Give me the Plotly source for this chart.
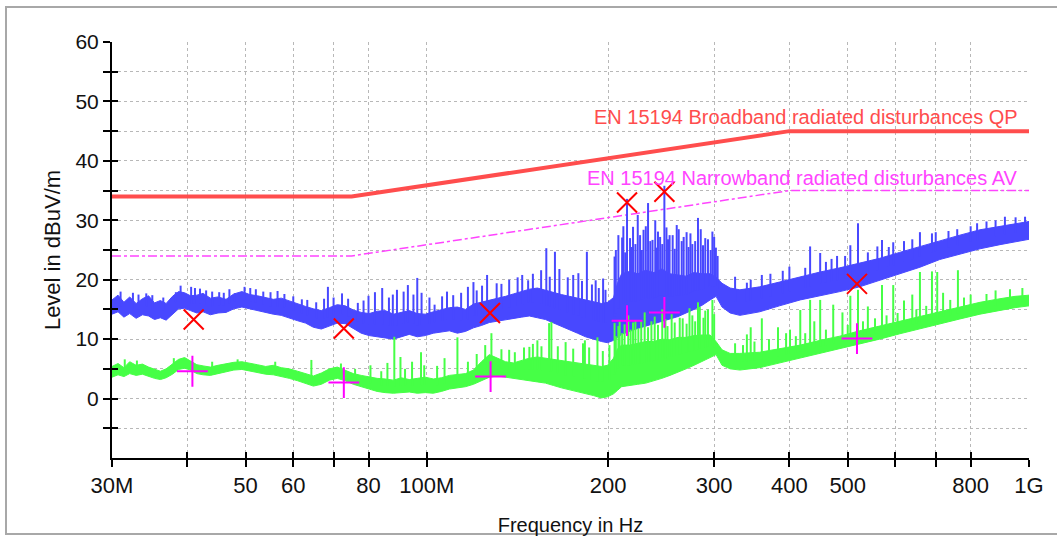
import numpy as np
import plotly.graph_objects as go

# ---------------- data ----------------
# frequency grid in MHz at which the two measured traces were read
freq_mhz = [30.0, 30.7, 31.4, 32.1, 32.9, 33.7, 34.5, 35.3, 36.1, 36.9,
            37.8, 38.7, 39.6, 40.5, 41.5, 42.5, 43.7, 45.0, 46.4, 47.8,
            49.3, 50.8, 52.3, 54.0, 55.6, 57.3, 59.1, 61.0, 62.9, 64.8,
            66.8, 68.9, 71.0, 73.2, 75.5, 77.8, 80.2, 82.7, 85.3, 88.0,
            90.7, 93.5, 96.4, 99.4, 102.5, 105.7, 109.0, 112.4, 115.9, 119.5,
            123.2, 127.0, 131.0, 135.1, 139.2, 143.6, 148.0, 152.6, 157.4, 162.3,
            167.3, 172.5, 177.9, 183.4, 189.2, 195.0, 199.6, 204.2, 207.4, 210.6,
            217.2, 224.0, 231.0, 238.2, 245.6, 253.4, 261.3, 269.4, 277.8, 286.5,
            295.4, 302.2, 309.2, 318.9, 331, 357, 385, 417, 450, 485,
            523, 565, 610, 659, 711, 768, 829, 895, 948, 1000]

# peak trace (blue): upper and lower edge of the noise band, dBuV/m
peak_hi = [16.6, 17.4, 16.2, 17.1, 16.0, 16.8, 17.3, 16.1, 16.5, 16.0,
           17.2, 18.0, 17.8, 17.3, 17.4, 17.7, 16.9, 17.1, 16.7, 17.6,
           18.0, 17.5, 17.3, 17.0, 16.7, 16.9, 16.4, 16.0, 15.5, 15.1,
           14.8, 15.3, 15.8, 15.6, 14.9, 14.5, 14.3, 14.7, 14.8, 14.2,
           14.5, 14.8, 14.3, 14.2, 14.6, 14.9, 15.3, 15.4, 15.0, 15.9,
           16.2, 16.6, 16.9, 17.2, 17.6, 18.0, 18.4, 18.6, 18.2, 17.8,
           17.5, 17.2, 16.9, 16.6, 16.3, 16.0, 16.2, 17.0, 19.5, 21.0,
           21.4, 21.0, 21.6, 21.2, 21.8, 21.0, 20.8, 20.6, 21.2, 21.0,
           21.0, 20.4, 19.4, 18.6, 18.3, 18.8, 19.6, 20.5, 21.3, 22.0,
           22.8, 23.6, 24.6, 25.6, 26.6, 27.5, 28.4, 29.0, 29.5, 29.8]
peak_lo = [14.2, 14.6, 13.7, 14.3, 13.5, 14.1, 13.9, 13.3, 13.6, 13.2,
           14.2, 15.1, 15.2, 14.8, 14.4, 14.6, 14.1, 14.4, 14.5, 15.1,
           15.4, 15.1, 14.8, 14.5, 14.2, 14.0, 13.6, 13.1, 12.7, 12.0,
           11.7, 12.2, 12.7, 12.6, 11.8, 11.0, 10.6, 10.4, 10.2, 10.0,
           10.4, 10.8, 10.4, 10.6, 11.0, 11.2, 11.4, 11.0, 11.3, 11.9,
           12.3, 12.8, 13.0, 13.2, 13.5, 13.7, 13.9, 13.6, 13.3, 12.8,
           12.2, 11.6, 11.0, 10.4, 10.0, 9.6, 9.4, 9.8, 10.3, 10.8,
           11.3, 11.8, 12.2, 12.6, 13.0, 13.4, 13.8, 14.4, 15.0, 15.7,
           16.6, 17.2, 15.4, 14.4, 14.0, 14.6, 15.6, 16.6, 17.3, 18.0,
           18.8, 19.8, 21.0, 22.1, 23.4, 24.3, 25.2, 25.9, 26.4, 26.8]

# average trace (green): upper and lower edge of the band, dBuV/m
avg_hi = [5.4, 5.9, 5.2, 6.2, 5.6, 5.8, 5.3, 5.0, 4.6, 5.0,
          5.8, 6.6, 6.9, 6.3, 5.7, 5.5, 5.3, 5.6, 5.9, 6.1,
          6.2, 6.0, 5.7, 5.4, 5.6, 5.2, 5.0, 4.6, 4.2, 3.8,
          4.3, 5.0, 5.3, 4.8, 4.2, 3.9, 3.6, 3.4, 3.3, 3.1,
          3.5, 3.2, 3.4, 3.6, 3.3, 3.5, 3.9, 4.0, 4.2, 4.8,
          6.2, 7.4, 6.8, 6.2, 6.0, 6.4, 6.8, 7.0, 6.8, 6.6,
          6.4, 6.2, 6.0, 5.8, 5.6, 5.4, 5.6, 6.8, 8.4, 9.0,
          9.0, 9.3, 9.6, 9.6, 10.0, 9.9, 10.3, 10.3, 10.6, 10.7,
          10.7, 9.6, 8.2, 7.6, 7.6, 7.8, 8.4, 9.0, 9.8, 10.5,
          11.4, 12.2, 13.0, 13.8, 14.6, 15.4, 16.2, 16.8, 17.2, 17.4]
avg_lo = [3.6, 4.0, 3.7, 4.2, 3.9, 4.1, 3.8, 3.4, 3.2, 3.5,
          4.1, 4.9, 5.1, 4.8, 4.2, 4.0, 3.9, 4.2, 4.5, 4.8,
          4.9, 4.7, 4.4, 4.1, 4.0, 3.7, 3.4, 3.0, 2.6, 2.1,
          2.4, 3.1, 3.4, 3.0, 2.4, 2.0, 1.6, 1.2, 1.0, 0.9,
          1.0, 1.1, 0.9, 1.0, 0.9, 1.2, 1.6, 1.8, 2.0, 2.4,
          3.0, 3.6, 3.8, 3.6, 3.4, 3.2, 3.0, 2.8, 2.6, 2.2,
          1.8, 1.4, 1.1, 0.8, 0.5, 0.1, 0.3, 0.8, 1.4, 2.0,
          2.2, 2.4, 2.6, 3.0, 3.4, 3.9, 4.4, 5.0, 5.6, 6.2,
          6.9, 7.4, 5.6, 5.0, 4.8, 5.2, 6.0, 6.8, 7.6, 8.4,
          9.2, 10.0, 10.9, 11.8, 12.6, 13.4, 14.2, 14.8, 15.3, 15.6]

# narrow spikes rising out of the peak band (MHz, peak dBuV/m)
peak_spike_mhz = [31.0, 32.5, 33.2, 34.2, 35.0, 36.5, 38.3, 39.0, 40.6, 41.2,
                  42.0, 43.0, 44.0, 45.2, 46.0, 47.0, 48.0, 49.8, 50.9, 52.0,
                  53.5, 55.0, 56.5, 58.0, 60.0, 62.0, 63.3, 65.5, 67.5, 68.5,
                  70.0, 72.3, 74.0, 76.8, 78.5, 80.0, 82.0, 84.3, 86.5, 87.8,
                  89.2, 91.5, 93.0, 95.0, 96.4, 98.0, 101, 103, 106, 108,
                  110.6, 114, 117, 119.5, 121, 123.5, 125.9, 130.6, 133, 137,
                  141.5, 144, 147.3, 150, 154.8, 157.9, 160, 163.2, 166, 171.4,
                  175, 178.5, 181, 184.4, 188, 190.7, 193, 196.2, 198, 205,
                  206, 208, 211, 212, 213.5, 215, 217.5, 219, 220, 222,
                  224, 226, 227.5, 229, 231, 233, 235, 237, 239.5, 241,
                  242, 244, 246, 248, 250, 251.5, 253, 256, 258, 260,
                  262, 265, 267, 270, 272, 274, 276, 279, 282, 285,
                  287.5, 290, 293, 296, 298, 300, 302, 304, 325, 340,
                  345, 360, 372, 390, 400, 425, 433, 450, 460, 470,
                  480, 495, 505, 520, 540, 560, 570, 585, 595, 620,
                  640, 659, 690, 700, 735, 760, 800, 820, 850, 880,
                  912, 950, 985]
peak_spike_db = [18.0, 17.8, 17.5, 17.7, 17.4, 17.0, 17.9, 19.0, 18.8, 18.6,
                 18.5, 18.2, 18.0, 17.9, 17.8, 18.4, 17.7, 18.8, 18.6, 18.4,
                 18.0, 17.9, 18.1, 17.6, 17.2, 16.7, 16.6, 16.2, 16.8, 18.8,
                 17.0, 17.7, 16.8, 16.1, 16.5, 17.3, 17.9, 18.6, 17.0, 17.5,
                 18.3, 18.0, 19.1, 17.5, 20.3, 17.8, 17.0, 15.8, 17.2, 18.0,
                 17.4, 17.8, 18.8, 19.6, 18.2, 19.0, 20.8, 19.4, 19.3, 20.0,
                 20.4, 20.8, 19.9, 21.0, 21.6, 25.3, 20.5, 24.7, 21.8, 20.4,
                 20.8, 21.1, 19.8, 24.7, 19.2, 19.9, 18.6, 20.2, 18.3, 23.9,
                 25.0, 27.5, 27.1, 29.0, 24.6, 33.6, 27.0, 25.5, 28.9, 26.0,
                 30.9, 27.5, 25.0, 28.4, 29.0, 32.9, 26.5, 26.7, 30.0, 25.4,
                 28.1, 27.2, 26.0, 35.8, 28.8, 26.8, 27.5, 27.5, 25.2, 29.2,
                 28.5, 26.5, 27.2, 28.0, 25.5, 27.8, 26.0, 26.5, 30.4, 28.5,
                 25.8, 27.0, 26.8, 25.0, 28.1, 27.2, 25.4, 24.0, 20.5, 19.5,
                 20.0, 20.8, 21.0, 21.5, 22.2, 22.0, 25.6, 24.5, 23.0, 23.5,
                 24.0, 24.0, 25.8, 29.5, 24.6, 25.6, 26.7, 25.5, 26.3, 26.5,
                 26.8, 28.0, 27.8, 28.0, 28.2, 28.5, 29.0, 29.5, 29.8, 30.0,
                 30.6, 30.5, 30.6]

# narrow spikes rising out of the average band (MHz, peak dBuV/m)
avg_spike_mhz = [31.5, 33.0, 38.0, 44.0, 48.5, 56.0, 64.3, 72.0, 76.0, 80.6,
                 84.0, 86.0, 88.3, 90.4, 92.0, 94.5, 97.8, 99.0, 104, 107,
                 112.4, 117, 121, 125, 128, 133, 137, 140, 145, 148,
                 150, 152.6, 155, 159.6, 161, 165, 170, 175, 181.7, 183,
                 186, 192, 196, 201, 205, 206, 208, 209, 211, 213,
                 216, 218, 220, 222, 224.5, 227, 230, 233, 236, 239,
                 242, 246, 249, 251, 255, 258, 263, 266, 270, 273,
                 276, 279, 282, 284, 288, 290, 293, 298, 300, 325,
                 335, 340, 345, 350, 360, 370, 383, 395, 401, 410,
                 417, 425, 433, 440, 450, 460, 473, 490, 500, 505,
                 520, 530, 540, 555, 570, 580, 595, 605, 620, 640,
                 650, 659, 675, 690, 704, 720, 740, 762, 780, 800,
                 850, 880, 930, 975]
avg_spike_db = [6.6, 6.4, 6.8, 6.2, 6.6, 6.2, 6.5, 5.9, 5.0, 5.6,
                4.6, 6.0, 10.4, 7.0, 5.0, 6.2, 7.8, 5.6, 5.5, 6.8,
                10.3, 6.2, 7.5, 9.0, 11.0, 8.3, 8.2, 7.8, 8.6, 8.7,
                9.2, 9.8, 8.8, 12.7, 12.9, 8.8, 9.5, 8.4, 9.3, 9.8,
                8.6, 10.3, 8.0, 9.0, 12.7, 10.5, 12.2, 13.0, 11.0, 12.5,
                14.0, 11.6, 12.8, 13.2, 11.8, 13.2, 14.5, 12.0, 13.0, 13.8,
                12.4, 15.0, 13.4, 12.2, 14.2, 12.8, 13.6, 13.5, 12.6, 15.2,
                14.0, 13.0, 16.2, 15.4, 13.6, 14.8, 15.0, 16.6, 14.2, 9.3,
                9.0, 10.8, 12.0, 9.6, 13.5, 10.0, 12.0, 11.0, 11.6, 10.5,
                14.9, 11.0, 16.6, 13.0, 16.6, 11.6, 15.8, 14.5, 12.4, 17.3,
                18.3, 13.0, 15.5, 13.5, 19.1, 14.0, 19.1, 14.4, 16.5, 17.5,
                15.0, 21.3, 15.6, 21.4, 21.3, 17.8, 16.6, 21.6, 17.0, 17.5,
                17.6, 18.2, 18.4, 18.6]

# limit lines
qp_limit_mhz = [30, 75, 400, 1000]
qp_limit_db = [34, 34, 45, 45]
av_limit_mhz = [30, 75, 400, 1000]
av_limit_db = [24, 24, 35, 35]
qp_limit_name = "EN 15194 Broadband radiated disturbances QP"
av_limit_name = "EN 15194 Narrowband radiated disturbances AV"

# final measurement markers
qp_mark_mhz = [41.0, 72.8, 127.3, 215, 248, 518]
qp_mark_db = [13.3, 11.8, 14.4, 33.0, 34.8, 19.3]
av_mark_mhz = [40.8, 72.8, 127.6, 215, 248, 518]
av_mark_db = [4.6, 2.7, 3.7, 13.1, 14.5, 10.1]

# axes
x_tick_mhz = [30, 40, 50, 60, 70, 80, 100, 200, 300, 400, 500, 600, 700, 800, 1000]
x_tick_text = ["30M", "", "50", "60", "", "80", "100M", "200", "300", "400", "500", "", "", "800", "1G"]
y_tick_vals = [-5, 0, 5, 10, 15, 20, 25, 30, 35, 40, 45, 50, 55, 60]
y_tick_text = ["", "0", "", "10", "", "20", "", "30", "", "40", "", "50", "", "60"]
x_title = "Frequency in Hz"
y_title = "Level in dBuV/m"

# ---------------- styling ----------------
BLUE = "#4848ff"
GREEN = "#46ff46"
RED_LIM = "#ff4d4d"
MAG_LIM = "#ff44ff"
FONT = "Liberation Sans, Arial, sans-serif"

MHZ = 1e6

FIG_W, FIG_H = 1057, 536
PL, PT, PW, PH = 112, 42, 917, 416   # plot area on screen


def hz(lst):
    return [v * MHZ for v in lst]


def band(fs, hi, lo, color):
    xs = hz(fs) + hz(fs)[::-1]
    ys = list(hi) + list(lo)[::-1]
    return go.Scatter(x=xs, y=ys, mode="lines", fill="toself", fillcolor=color,
                      line=dict(color=color, width=1), hoverinfo="skip")


def spikes(sf, sv, fs, hi, lo, color):
    mid = (np.array(hi) + np.array(lo)) / 2.0
    base = np.interp(np.log10(sf), np.log10(fs), mid)
    xs, ys = [], []
    for f, b, t in zip(sf, base, sv):
        xs += [f * MHZ, f * MHZ, None]
        ys += [b, t, None]
    return go.Scatter(x=xs, y=ys, mode="lines", line=dict(color=color, width=2),
                      hoverinfo="skip")


fig = go.Figure()

fig.add_trace(go.Scatter(x=hz(qp_limit_mhz), y=qp_limit_db, mode="lines",
                         line=dict(color=RED_LIM, width=4), name=qp_limit_name))
fig.add_trace(go.Scatter(x=hz(av_limit_mhz), y=av_limit_db, mode="lines",
                         line=dict(color=MAG_LIM, width=1.5, dash="dashdot"), name=av_limit_name))

fig.add_trace(band(freq_mhz, peak_hi, peak_lo, BLUE))
fig.add_trace(spikes(peak_spike_mhz, peak_spike_db, freq_mhz, peak_hi, peak_lo, BLUE))
fig.add_trace(band(freq_mhz, avg_hi, avg_lo, GREEN))
fig.add_trace(spikes(avg_spike_mhz, avg_spike_db, freq_mhz, avg_hi, avg_lo, GREEN))

fig.add_trace(go.Scatter(x=hz(qp_mark_mhz), y=qp_mark_db, mode="markers",
                         marker=dict(symbol="x-thin", size=20, line=dict(color="#ff0000", width=2))))
fig.add_trace(go.Scatter(x=hz(av_mark_mhz), y=av_mark_db, mode="markers",
                         marker=dict(symbol="cross-thin", size=22, line=dict(color="#ff00ff", width=2))))

# helper trace for the duplicate axes (inner half of the crossing ticks)
fig.add_trace(go.Scatter(x=[None], y=[None], xaxis="x2", yaxis="y2", showlegend=False))

xr = [np.log10(30e6), np.log10(1e9)]
yr = [-10, 60]

fig.update_layout(
    width=FIG_W, height=FIG_H,
    margin=dict(l=PL, r=FIG_W - PL - PW, t=PT, b=FIG_H - PT - PH, autoexpand=False),
    paper_bgcolor="white", plot_bgcolor="white",
    showlegend=False,
    font=dict(family=FONT, size=20, color="#111111"),
    xaxis=dict(type="log", range=xr, tickvals=hz(x_tick_mhz), ticktext=x_tick_text,
               showline=True, linecolor="black", linewidth=2,
               ticks="outside", ticklen=7, tickwidth=2, tickcolor="black",
               showgrid=True, gridcolor="#b8b8b8", griddash="dot", gridwidth=1,
               zeroline=False, tickfont=dict(size=22), automargin=False,
               title=dict(text=x_title, font=dict(size=20), standoff=26)),
    yaxis=dict(range=yr, tickvals=y_tick_vals, ticktext=y_tick_text,
               showline=True, linecolor="black", linewidth=2,
               ticks="outside", ticklen=7, tickwidth=2, tickcolor="black",
               showgrid=True, gridcolor="#b8b8b8", griddash="dot", gridwidth=1,
               zeroline=False, tickfont=dict(size=21), automargin=False,
               title=dict(text=y_title, font=dict(size=22), standoff=9)),
    xaxis2=dict(type="log", range=xr, overlaying="x", anchor="y", side="bottom",
                tickvals=hz(x_tick_mhz), showticklabels=False, ticks="inside",
                ticklen=6, tickwidth=2, tickcolor="black", showgrid=False,
                showline=False, zeroline=False),
    yaxis2=dict(range=yr, overlaying="y", anchor="x", side="left",
                tickvals=y_tick_vals, showticklabels=False, ticks="inside",
                ticklen=6, tickwidth=2, tickcolor="black", showgrid=False,
                showline=False, zeroline=False),
)

# limit line labels
fig.add_annotation(xref="paper", yref="y", x=(1020 - PL) / PW, y=47.3, text=qp_limit_name,
                   showarrow=False, xanchor="right", yanchor="middle",
                   font=dict(family=FONT, size=20, color=RED_LIM))
fig.add_annotation(xref="paper", yref="y", x=(1020 - PL) / PW, y=37.1, text=av_limit_name,
                   showarrow=False, xanchor="right", yanchor="middle",
                   font=dict(family=FONT, size=20, color=MAG_LIM))

# outer frame of the chart window (screen pixels converted to paper units)
fig.add_shape(type="rect", xref="paper", yref="paper",
              x0=(6 - PL) / PW, x1=(1080 - PL) / PW,
              y0=(PT + PH - 534) / PH, y1=(PT + PH - 7) / PH,
              line=dict(color="#a8a8a8", width=2), layer="below")

# the page's default 8 px body margin is removed so the figure starts at the window corner
fig.write_html("out.html", config={"displayModeBar": False},
               post_script="document.body.style.margin='0';")
